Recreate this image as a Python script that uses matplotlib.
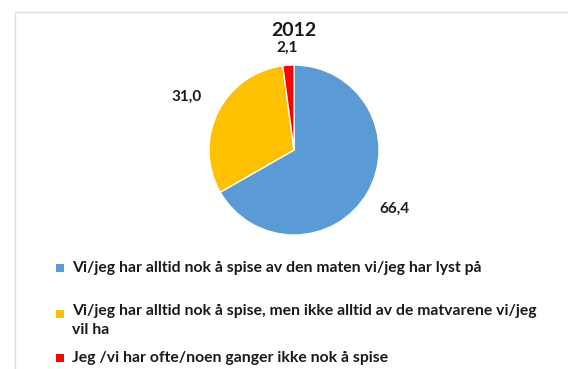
import matplotlib
matplotlib.use("Agg")
import matplotlib.pyplot as plt
from matplotlib.patches import Rectangle
import numpy as np

title = "2012"
categories = [
    "Vi/jeg har alltid nok å spise av den maten vi/jeg har lyst på",
    "Vi/jeg har alltid nok å spise, men ikke alltid av de matvarene vi/jeg\nvil ha",
    "Jeg /vi har ofte/noen ganger ikke nok å spise",
]
values = [66.4, 31.0, 2.1]
colors = ["#5B9BD5", "#FFC000", "#FF0000"]

W, H = 568, 369
fig = plt.figure(figsize=(W / 100, H / 100), dpi=100)
fig.patch.set_facecolor("white")

FONT = ["Lato", "DejaVu Sans"]
TXT = "#1a1a1a"

# light frame around the chart area
fig.add_artist(Rectangle((15 / W, -0.01), 1.0, 1 - 12 / H + 0.01, transform=fig.transFigure,
                         fill=False, edgecolor="#dcdcdc", linewidth=1.0))

# pie axes: center (294, 150) px, radius 85 px
cx, cy, r = 294, 150, 85
ax = fig.add_axes([(cx - r) / W, (H - cy - r) / H, 2 * r / W, 2 * r / H])

wedges, _ = ax.pie(values, colors=colors, startangle=90, counterclock=False, radius=1.0,
                   wedgeprops=dict(edgecolor="white", linewidth=1.0))
ax.set_xlim(-1, 1)
ax.set_ylim(-1, 1)
ax.set_aspect("equal")
ax.axis("off")

# value labels outside each slice
label_dist = [1.37, 1.41, 1.21]
for w, v, d in zip(wedges, values, label_dist):
    ang = np.deg2rad((w.theta1 + w.theta2) / 2)
    ax.text(d * np.cos(ang), d * np.sin(ang), f"{v:.1f}".replace(".", ","),
            ha="center", va="center", fontsize=11, fontweight="bold",
            family=FONT, color=TXT, clip_on=False)

fig.text(cx / W, 1 - 30 / H, title, ha="center", va="center", fontsize=14,
         fontweight="bold", family=FONT, color=TXT)

# legend
leg_y = [268, 314, 358]
for y, lab, c in zip(leg_y, categories, colors):
    fig.add_artist(Rectangle((56 / W, 1 - (y + 4) / H), 8 / W, 8 / H,
                             transform=fig.transFigure, facecolor=c, edgecolor="none"))
    if "\n" in lab:
        fig.text(72 / W, 1 - (y - 10) / H, lab, ha="left", va="top", fontsize=11.3,
                 fontweight="bold", family=FONT, color=TXT, linespacing=1.45)
    else:
        fig.text(72 / W, 1 - y / H, lab, ha="left", va="center", fontsize=11.3,
                 fontweight="bold", family=FONT, color=TXT)

fig.savefig("out.png", dpi=100, facecolor="white")
